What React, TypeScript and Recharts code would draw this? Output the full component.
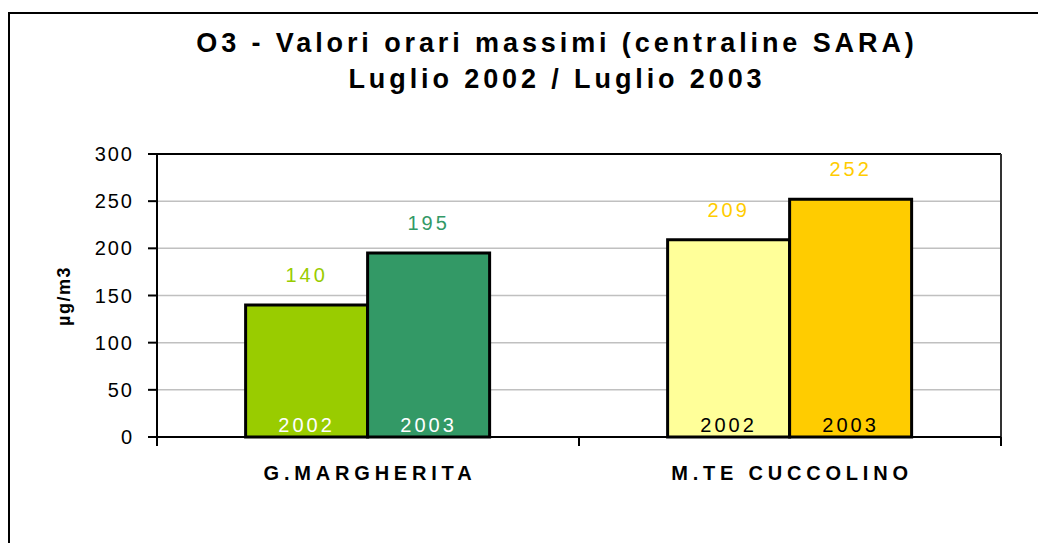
import { Bar, BarChart, CartesianGrid, Cell, LabelList, XAxis, YAxis } from 'recharts'

const stations = ['G.MARGHERITA', 'M.TE CUCCOLINO']
const values2002 = [140, 209]
const values2003 = [195, 252]
const yearLabels = ['2002', '2003']
const yTicks = [0, 50, 100, 150, 200, 250, 300]

const fill2002 = ['#99CC00', '#FFFF99']
const fill2003 = ['#339966', '#FFCC00']
const valueColor2002 = ['#99CC00', '#FFCC00']
const valueColor2003 = ['#339966', '#FFCC00']
const yearColor = ['#FFFFFF', '#000000']

const data = stations.map((name, i) => ({ name, y2002: values2002[i], y2003: values2003[i] }))

const FONT = '"Liberation Sans", Arial, sans-serif'

function valueLabel(colors: string[]) {
  return (props: any) => {
    const x = Number(props.x)
    const y = Number(props.y)
    const w = Number(props.width)
    return (
      <text x={x + w / 2} y={y - 23} textAnchor="middle" fill={colors[props.index]} fontFamily={FONT} fontSize={20} letterSpacing={3}>
        {props.value}
      </text>
    )
  }
}

function yearLabel(year: string) {
  return (props: any) => {
    const x = Number(props.x)
    const y = Number(props.y)
    const w = Number(props.width)
    const h = Number(props.height)
    return (
      <text x={x + w / 2} y={y + h - 5} textAnchor="middle" fill={yearColor[props.index]} fontFamily={FONT} fontSize={20} letterSpacing={3}>
        {year}
      </text>
    )
  }
}

function YTick(props: any) {
  return (
    <text x={props.x - 12} y={props.y + 7} textAnchor="end" fill="#000" fontFamily={FONT} fontSize={20} letterSpacing={2}>
      {props.payload.value}
    </text>
  )
}

// category labels, plus the tick marks on the boundaries between categories
function XTick(props: any) {
  const half = Number(props.payload.offset) || 0
  const axisY = 437
  return (
    <g>
      <line x1={props.x - half} x2={props.x - half} y1={axisY} y2={axisY + 9} stroke="#000" strokeWidth={2} />
      <line x1={props.x + half} x2={props.x + half} y1={axisY} y2={axisY + 9} stroke="#000" strokeWidth={2} />
      <text x={props.x + 2} y={props.y + 35} textAnchor="middle" fill="#000" fontFamily={FONT} fontSize={20} fontWeight="bold" letterSpacing={4.8}>
        {props.payload.value}
      </text>
    </g>
  )
}

export default function App() {
  return (
    <div style={{ position: 'absolute', left: 0, top: 0, width: 1038, height: 543, overflow: 'hidden', background: '#fff' }}>
      <div style={{ position: 'absolute', left: 8, top: 12, width: 1100, height: 600, border: '2px solid #000' }} />
      <div style={{ position: 'absolute', left: 0, top: 0 }}>
        <BarChart
          width={1038}
          height={543}
          data={data}
          margin={{ top: 154, right: 37, bottom: 46, left: 57 }}
          barGap={0}
          barCategoryGap="21%"
        >
          <text x={557} y={52} textAnchor="middle" fontFamily={FONT} fontSize={27} fontWeight="bold" letterSpacing={3.9} fill="#000">
            O3 - Valori orari massimi (centraline SARA)
          </text>
          <text x={557} y={88} textAnchor="middle" fontFamily={FONT} fontSize={27} fontWeight="bold" letterSpacing={3.9} fill="#000">
            Luglio 2002 / Luglio 2003
          </text>
          <text
            x={0}
            y={0}
            transform="translate(70, 296) rotate(-90)"
            textAnchor="middle"
            fontFamily={FONT}
            fontSize={18}
            fontWeight="bold"
            letterSpacing={1.5}
            fill="#000"
          >
            µg/m3
          </text>
          <CartesianGrid vertical={false} stroke="#C0C0C0" strokeWidth={1.5} />
          <CartesianGrid
            vertical={false}
            horizontalCoordinatesGenerator={({ offset }: any) => [offset.top]}
            stroke="#000"
            strokeWidth={2}
          />
          <CartesianGrid
            horizontal={false}
            verticalCoordinatesGenerator={({ offset }: any) => [offset.left + offset.width]}
            stroke="#333"
            strokeWidth={2}
          />
          <XAxis
            dataKey="name"
            tickLine={false}
            axisLine={{ stroke: '#000', strokeWidth: 2 }}
            tick={<XTick />}
            height={60}
          />
          <YAxis
            domain={[0, 300]}
            ticks={yTicks}
            tick={<YTick />}
            tickSize={9}
            tickLine={{ stroke: '#000', strokeWidth: 2 }}
            axisLine={{ stroke: '#000', strokeWidth: 2 }}
            width={100}
          />
          <Bar dataKey="y2002" stroke="#000" strokeWidth={3} isAnimationActive={false}>
            {data.map((_, i) => (
              <Cell key={i} fill={fill2002[i]} />
            ))}
            <LabelList dataKey="y2002" content={valueLabel(valueColor2002)} />
            <LabelList dataKey="y2002" content={yearLabel(yearLabels[0])} />
          </Bar>
          <Bar dataKey="y2003" stroke="#000" strokeWidth={3} isAnimationActive={false}>
            {data.map((_, i) => (
              <Cell key={i} fill={fill2003[i]} />
            ))}
            <LabelList dataKey="y2003" content={valueLabel(valueColor2003)} />
            <LabelList dataKey="y2003" content={yearLabel(yearLabels[1])} />
          </Bar>
        </BarChart>
      </div>
    </div>
  )
}
